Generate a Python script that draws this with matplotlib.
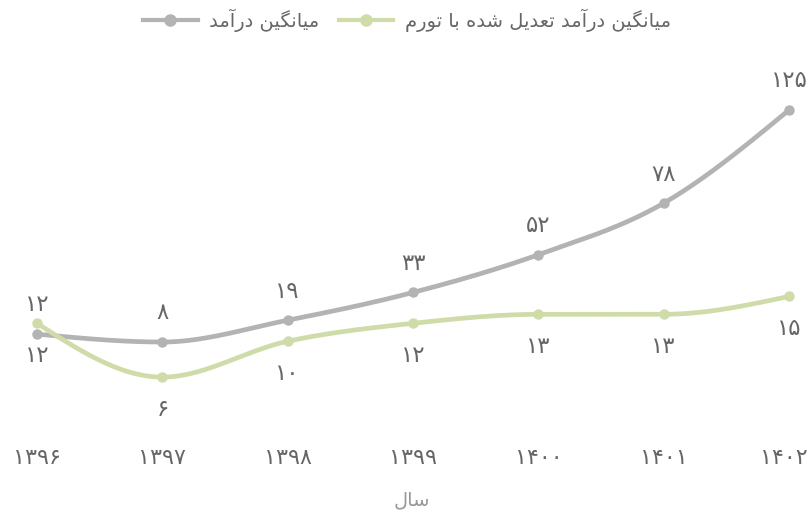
import numpy as np
import matplotlib
matplotlib.use('Agg')
import matplotlib.pyplot as plt
import matplotlib.transforms as mtransforms
from matplotlib.lines import Line2D

# data
years = [1396, 1397, 1398, 1399, 1400, 1401, 1402]
income = [12, 8, 19, 33, 52, 78, 125]
income_real = [12, 6, 10, 12, 13, 13, 15]

label_income = 'میانگین درآمد'
label_real = 'میانگین درآمد تعدیل شده با تورم'
xlabel = 'سال'

gray = '#b3b3b3'
green = '#cfdca9'

# matplotlib does no arabic shaping, so pick presentation forms by hand
# (isolated, final, initial, medial)
forms = {
    'ا': ('\uFE8D', '\uFE8E', None, None),
    'آ': ('\uFE81', '\uFE82', None, None),
    'ب': ('\uFE8F', '\uFE90', '\uFE91', '\uFE92'),
    'ت': ('\uFE95', '\uFE96', '\uFE97', '\uFE98'),
    'د': ('\uFEA9', '\uFEAA', None, None),
    'ر': ('\uFEAD', '\uFEAE', None, None),
    'س': ('\uFEB1', '\uFEB2', '\uFEB3', '\uFEB4'),
    'ش': ('\uFEB5', '\uFEB6', '\uFEB7', '\uFEB8'),
    'ع': ('\uFEC9', '\uFECA', '\uFECB', '\uFECC'),
    'ل': ('\uFEDD', '\uFEDE', '\uFEDF', '\uFEE0'),
    'م': ('\uFEE1', '\uFEE2', '\uFEE3', '\uFEE4'),
    'ن': ('\uFEE5', '\uFEE6', '\uFEE7', '\uFEE8'),
    'ه': ('\uFEE9', '\uFEEA', '\uFEEB', '\uFEEC'),
    'و': ('\uFEED', '\uFEEE', None, None),
    'ی': ('\uFBFC', '\uFBFD', '\uFBFE', '\uFBFF'),
    'گ': ('\uFB92', '\uFB93', '\uFB94', '\uFB95'),
}
right_join = set('اآدرو')


def shape(s):
    out = []
    for i, c in enumerate(s):
        if c not in forms:
            out.append(c)
            continue
        prev = s[i - 1] if i > 0 else None
        nxt = s[i + 1] if i + 1 < len(s) else None
        jp = prev in forms and prev not in right_join
        jn = nxt in forms and c not in right_join
        iso, fin, ini, med = forms[c]
        if jp and jn:
            g = med
        elif jp:
            g = fin
        elif jn:
            g = ini
        else:
            g = iso
        out.append(g)
    return ''.join(reversed(out))


fa_digits = str.maketrans('0123456789', '۰۱۲۳۴۵۶۷۸۹')


def fa(n):
    return str(n).translate(fa_digits)


# monotone cubic like d3 curveMonotoneX, sampled for drawing
def monotone(x, y, n=40):
    x = np.asarray(x, float)
    y = np.asarray(y, float)
    h = np.diff(x)
    s = np.diff(y) / h
    m = np.zeros(len(x))
    for i in range(1, len(x) - 1):
        p = (s[i - 1] * h[i] + s[i] * h[i - 1]) / (h[i - 1] + h[i])
        m[i] = (np.sign(s[i - 1]) + np.sign(s[i])) * min(abs(s[i - 1]), abs(s[i]), 0.5 * abs(p))
    m[0] = (3 * s[0] - m[1]) / 2
    m[-1] = (3 * s[-1] - m[-2]) / 2
    xs, ys = [], []
    t = np.linspace(0, 1, n)
    for i in range(len(x) - 1):
        dx = h[i] / 3
        p0 = (x[i], y[i])
        p1 = (x[i] + dx, y[i] + dx * m[i])
        p2 = (x[i + 1] - dx, y[i + 1] - dx * m[i + 1])
        p3 = (x[i + 1], y[i + 1])
        b = [(1 - t) ** 3, 3 * (1 - t) ** 2 * t, 3 * (1 - t) * t ** 2, t ** 3]
        xs.append(b[0] * p0[0] + b[1] * p1[0] + b[2] * p2[0] + b[3] * p3[0])
        ys.append(b[0] * p0[1] + b[1] * p1[1] + b[2] * p2[1] + b[3] * p3[1])
    return np.concatenate(xs), np.concatenate(ys)


plt.rcParams['font.family'] = ['DejaVu Sans']

fig = plt.figure(figsize=(8.1, 5.13), dpi=100)
ax = fig.add_axes([37 / 810, 73 / 513, 752 / 810, 380 / 513])
ax2 = ax.twinx()

xi = np.arange(len(years))

cx, cy = monotone(xi, income)
ax.plot(cx, cy, color=gray, lw=3.4, solid_capstyle='round', clip_on=False)
ax.plot(xi, income, 'o', color=gray, ms=6.5, clip_on=False)
for x, v in zip(xi, income):
    ax.annotate(fa(v), (x, v), xytext=(0, 21), textcoords='offset points',
                ha='center', va='center', fontsize=16.5, color='#666666')

gx, gy = monotone(xi, income_real)
ax2.plot(gx, gy, color=green, lw=3.4, solid_capstyle='round', clip_on=False)
ax2.plot(xi, income_real, 'o', color=green, ms=6.5, clip_on=False)
for x, v in zip(xi, income_real):
    ax2.annotate(fa(v), (x, v), xytext=(0, -23), textcoords='offset points',
                 ha='center', va='center', fontsize=16.5, color='#666666')

ax.set_xlim(0, 6)
ax.set_ylim(-41.4, 150.2)
ax2.set_ylim(-1.0, 41.33)

ax.set_xticks(xi)
ax.set_xticklabels([fa(y) for y in years], fontsize=16, color='#666666')
ax.tick_params(axis='x', length=0, pad=6)
# keep the last year inside the figure: right-align it a bit past the point
last = ax.get_xticklabels()[-1]
last.set_horizontalalignment('right')
last.set_transform(last.get_transform() +
                   mtransforms.ScaledTranslation(0.19, 0, fig.dpi_scale_trans))
ax.set_yticks([])
ax2.set_yticks([])
for a in (ax, ax2):
    for sp in a.spines.values():
        sp.set_visible(False)
    a.patch.set_visible(False)

fig.text(412 / 810, 1 - 500 / 513, shape(xlabel), ha='center', va='center',
         fontsize=14, color='#999999')

handles = [
    Line2D([], [], color=gray, lw=3, marker='o', ms=8),
    Line2D([], [], color=green, lw=3, marker='o', ms=8),
]
fig.legend(handles, [shape(label_income), shape(label_real)], loc='center',
           bbox_to_anchor=(407 / 810, 1 - 20 / 513), ncol=2, frameon=False,
           fontsize=14, handlelength=2.8, columnspacing=1.0, handletextpad=0.6,
           labelcolor='#666666')

fig.savefig('out.png', dpi=100)
